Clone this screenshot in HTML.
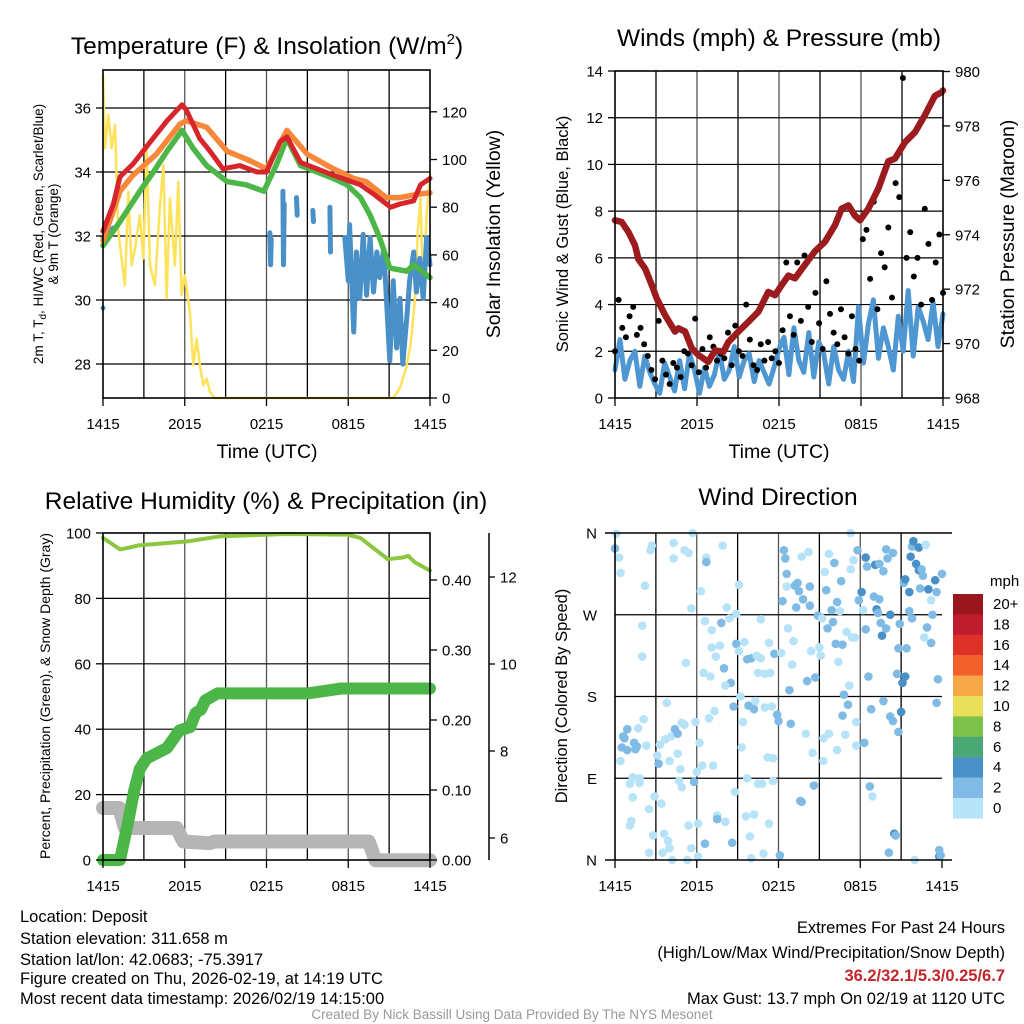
<!DOCTYPE html>
<html><head><meta charset="utf-8"><style>
html,body{margin:0;padding:0;background:#fff;}
svg{display:block;font-family:"Liberation Sans",sans-serif;}
</style></head><body>
<svg id="c" width="1024" height="1024" viewBox="0 0 1024 1024" xmlns="http://www.w3.org/2000/svg">
<g font-size="24.5" text-anchor="middle" fill="#000">
<text x="267" y="54">Temperature (F) &amp; Insolation (W/m<tspan font-size="15" dy="-10">2</tspan><tspan dy="10">)</tspan></text>
<text x="779" y="46">Winds (mph) &amp; Pressure (mb)</text>
<text x="266" y="509">Relative Humidity (%) &amp; Precipitation (in)</text>
<text x="778" y="505">Wind Direction</text>
</g>
<g id="layer"></g>
<g fill="#000" text-anchor="middle">
<text x="267" y="458" font-size="19.5">Time (UTC)</text>
<text x="779" y="458" font-size="19.5">Time (UTC)</text>
<text transform="translate(43,234) rotate(-90)" font-size="13.5">2m T, T<tspan font-size="10" dy="3">d</tspan><tspan dy="-3">, HI/WC (Red, Green, Scarlet/Blue)</tspan></text>
<text transform="translate(58,234) rotate(-90)" font-size="13.5">&amp; 9m T (Orange)</text>
<text transform="translate(500,234) rotate(-90)" font-size="19.5">Solar Insolation (Yellow)</text>
<text transform="translate(568,234) rotate(-90)" font-size="16.5">Sonic Wind &amp; Gust (Blue, Black)</text>
<text transform="translate(1014,234) rotate(-90)" font-size="19.5">Station Pressure (Maroon)</text>
<text transform="translate(50,696) rotate(-90)" font-size="14">Percent, Precipitation (Green), &amp; Snow Depth (Gray)</text>
<text transform="translate(567,696) rotate(-90)" font-size="16.5">Direction (Colored By Speed)</text>
</g>
<g font-size="16.5" fill="#000">
<text x="20" y="922">Location: Deposit</text>
<text x="20" y="944">Station elevation: 311.658 m</text>
<text x="20" y="965">Station lat/lon: 42.0683; -75.3917</text>
<text x="20" y="984">Figure created on Thu, 2026-02-19, at 14:19 UTC</text>
<text x="20" y="1004">Most recent data timestamp: 2026/02/19 14:15:00</text>
<g text-anchor="end">
<text x="1005" y="933">Extremes For Past 24 Hours</text>
<text x="1005" y="958">(High/Low/Max Wind/Precipitation/Snow Depth)</text>
<text x="1005" y="981" fill="#c1272d" font-weight="bold">36.2/32.1/5.3/0.25/6.7</text>
<text x="1005" y="1004">Max Gust: 13.7 mph On 02/19 at 1120 UTC</text>
</g>
<text x="512" y="1019" font-size="13.5" fill="#999" text-anchor="middle">Created By Nick Bassill Using Data Provided By The NYS Mesonet</text>
</g>
</svg>
<script>
// ---------- data ----------
const timeTicks = ["1415","2015","0215","0815","1415"];
const tempTicks = [28,30,32,34,36];
const solarTicks = [0,20,40,60,80,100,120];
const windTicks = [0,2,4,6,8,10,12,14];
const presTicks = [968,970,972,974,976,978,980];
const rhTicks = [0,20,40,60,80,100];
const precipTicks = [0.00,0.10,0.20,0.30,0.40];
const snowTicks = [6,8,10,12];
const dirTicks = ["N","E","S","W","N"];
const speedLabels = ["20+","18","16","14","12","10","8","6","4","2","0"];

const tH = [0,0.76,1.25,2.2,3.4,4.7,5.8,6.1,7.1,7.85,8.8,10.05,11.3,12,13,13.5,14.5,15.7,16.9,17.9,18.9,19.9,21.1,21.8,22.8,23.3,24];
const tempRed = [32.15,33.0,33.85,34.25,34.9,35.6,36.1,35.95,35.05,34.65,34.1,34.2,34.0,34.0,34.95,35.1,34.3,34.1,33.9,33.75,33.6,33.3,32.9,33.0,33.1,33.6,33.8];
const oH = [0,1.25,2.2,3.9,5.65,6.1,7.6,9.1,10.8,12,13.5,15,16.9,18.4,19.3,20.8,21.8,23,24];
const temp9m = [31.85,33.4,33.9,34.55,35.5,35.6,35.4,34.65,34.35,34.1,35.3,34.55,34.1,33.8,33.7,33.2,33.2,33.3,33.35];
const gH = [0,1.25,2.7,3.7,4.7,5.8,6.6,7.6,9.1,10.5,11.8,12.7,13.5,14.5,15.7,16.9,17.9,18.9,19.6,20.3,21.05,22.3,22.8,24];
const tempHIWC = [31.7,32.45,33.4,34.0,34.65,35.3,34.75,34.2,33.7,33.6,33.4,34.2,35.05,34.2,34.0,33.8,33.6,33.2,32.65,31.95,31.0,30.9,31.1,30.7];
const dpH = [0,0.76,null,12.25,12.3,12.35,null,13.2,13.25,13.3,null,14.2,14.25,null,15.4,15.45,null,16.65,16.7,null,17.75,18,18.1,18.4,18.6,18.85,19.1,19.35,19.6,19.85,20.1,20.3,20.6,20.8,21.05,21.3,21.55,21.8,22.0,22.3,22.5,22.8,23.0,23.25,23.5,23.75,24];
const dewpoint = [31.95,32.25,null,32.1,31.1,31.9,null,33.4,31.1,33.0,null,33.2,32.65,null,32.8,32.45,null,32.9,31.5,null,31.95,30.6,32.35,29.0,31.5,30.05,32.05,30.15,31.95,30.25,31.5,30.7,31.6,30.05,28.1,30.6,28.5,30.05,28.0,29.45,30.6,31.5,30.25,31.3,30.05,31.95,31.1];
const dewIsolatedH = [0]; const dewIsolated = [29.75];
const sH = [0,0.15,0.39,0.63,0.88,1.12,1.61,1.86,2.1,2.35,2.71,2.96,3.2,3.45,3.81,4.18,4.43,4.67,4.91,5.28,5.53,5.77,6.0,6.38,6.63,6.87,7.11,7.36,7.6,7.85,8.2,21.3,21.8,22.3,22.6,22.9,23.1,23.3,23.5,23.75,24];
const solar = [135.4,104.7,118.7,104.7,114.5,69.7,47.3,86.5,55.7,62.7,76.7,58.5,104.7,55.7,47.3,80.9,97.7,41.7,83.7,55.7,90.7,43.1,51.5,36.1,13.7,24.9,13.7,5.3,8.1,2.5,0,0,4.2,13.7,23.5,41.7,69.7,83.7,41.7,76.7,93.5];

const pH = [0,0.49,0.98,1.47,1.71,2.2,2.69,3.05,3.66,4.39,4.64,5.13,5.61,6.1,6.83,7.32,7.93,8.3,9.03,9.76,10.49,11.22,11.71,12.2,12.69,13.17,13.9,14.64,15.37,16.1,16.59,17.08,17.56,17.93,18.54,19.27,20.0,20.49,21.22,21.95,22.68,23.4,23.9,24];
const pressure = [974.53,974.47,974.1,973.6,973.1,972.76,972.15,971.66,971.05,970.44,970.56,970.44,969.83,969.58,969.33,969.75,969.7,970.06,970.44,970.8,971.17,971.9,971.78,972.15,972.5,972.4,972.9,973.4,973.75,974.35,974.96,975.08,974.7,974.53,974.96,975.7,976.7,976.8,977.4,977.77,978.4,979.1,979.24,979.3];
const windSpeed = [1.2,2.5,0.8,1.6,2.0,0.5,1.8,1.1,0.6,0.2,1.5,0.9,0.3,1.6,0.4,1.9,1.2,0.2,1.3,0.5,1.0,2.0,0.8,1.2,2.2,0.9,1.6,1.9,0.7,1.6,1.1,0.6,1.3,2.1,2.6,1.0,3.0,1.6,1.1,2.8,0.9,2.4,1.9,0.6,2.2,1.2,0.8,2.0,0.7,3.9,1.5,3.2,4.2,1.7,3.0,2.2,1.2,3.5,2.0,4.6,1.8,3.9,3.3,2.5,4.1,2.2,3.6];
const windGust = [2.0,4.2,3.0,2.6,3.5,3.9,2.7,3.0,2.3,1.8,1.2,0.8,3.3,1.6,1.0,0.6,1.5,1.3,0.9,2.0,1.9,1.4,3.4,1.1,2.1,1.3,2.6,2.2,1.6,1.9,1.7,2.8,1.4,3.1,2.0,1.8,4.0,2.5,1.4,1.2,2.3,1.6,2.4,1.7,2.0,1.5,2.9,5.8,3.5,2.7,5.8,3.3,6.1,3.9,2.4,4.5,3.2,2.1,5.0,3.6,2.8,2.3,3.8,2.6,1.9,3.5,2.1,1.6,6.8,7.2,5.1,8.4,3.8,6.2,5.6,7.3,4.3,9.2,8.6,13.7,6.0,7.1,5.2,6.0,4.0,8.1,6.6,4.2,5.8,7.0,4.5];

const rhH = [0,1.25,1.9,2.6,6.3,8.6,13.5,17.9,18.9,20.9,22,22.4,22.9,24];
const rh = [98.5,95,95.5,96.2,97.5,99,99.7,99.5,98.5,92,92.5,93,91,88.5];
const prH = [0,1.25,1.8,2.3,2.7,3.2,4.2,4.7,5.6,6.4,6.8,7.2,7.5,8.4,15,17.5,24];
const precip = [0,0,0.05,0.1,0.13,0.145,0.155,0.16,0.185,0.19,0.21,0.215,0.228,0.238,0.238,0.245,0.245];
const snH = [0,1.2,1.6,5.4,5.9,7.8,8.2,19.5,20.0,24];
const snow = [6.69,6.69,6.23,6.23,5.92,5.88,5.92,5.92,5.49,5.49];

const dirObs = [[0.0,343,3],[0.1,359,1],[0.3,333,1],[0.4,316,1],[2.2,302,1],[2.7,346,1],[2.6,341,1],[4.3,349,1],[4.3,332,1],[5.1,341,1],[5.4,338,1],[5.7,360,1],[6.7,333,1],[6.7,328,3],[7.9,346,1],[6.3,296,1],[5.6,277,1],[2.0,258,1],[2.0,224,1],[5.2,217,1],[6.6,263,1],[7.1,253,1],[7.8,261,3],[8.2,278,1],[8.4,266,1],[8.9,271,1],[9.1,303,1],[10.7,265,1],[7.1,234,1],[7.7,236,1],[7.4,224,1],[8.9,238,3],[9.1,230,1],[9.5,240,1],[9.7,221,3],[10.0,222,3],[10.4,225,1],[10.7,222,1],[11.3,239,1],[11.7,227,3],[12.2,228,1],[6.5,206,1],[7.0,202,1],[8.0,211,3],[8.5,195,3],[8.1,192,1],[9.2,180,1],[8.7,169,3],[9.8,170,3],[10.2,166,3],[10.3,175,1],[11.0,168,1],[11.5,169,1],[10.5,206,1],[11.0,205,1],[11.4,206,1],[12.4,341,3],[12.5,332,3],[12.6,315,3],[12.3,285,3],[12.6,301,1],[13.2,302,3],[13.4,305,3],[13.5,296,3],[13.3,278,3],[13.8,287,3],[14.3,301,3],[14.3,280,3],[13.7,334,1],[14.2,339,1],[12.7,255,1],[13.1,241,1],[13.0,215,1],[12.8,187,3],[14.1,197,3],[14.7,201,3],[14.4,230,1],[15.0,234,1],[15.1,225,1],[14.9,269,3],[15.2,266,1],[15.4,317,1],[15.5,297,3],[15.7,337,1],[15.9,275,3],[16.0,262,3],[15.6,255,3],[16.1,327,3],[16.3,284,3],[16.5,274,1],[16.6,307,3],[17.3,360,1],[17.8,341,3],[17.5,330,1],[17.3,320,1],[17.0,251,1],[17.4,245,1],[17.6,245,1],[16.2,238,3],[16.7,237,3],[16.4,218,1],[16.8,182,3],[17.1,171,3],[17.2,192,1],[16.7,159,3],[17.7,152,1],[17.7,126,1],[18.3,129,3],[18.8,166,3],[18.7,81,3],[18.9,70,1],[18.4,333,4.5],[18.5,323,3],[18.1,295,4.5],[17.9,286,3],[18.2,275,1],[18.4,254,3],[19.0,290,3],[19.4,287,3],[19.1,325,4.5],[19.4,326,3],[19.7,318,3],[19.9,342,3],[20.0,332,3],[20.4,338,3],[19.2,276,4.5],[19.3,272,3],[19.5,261,3],[19.9,255,3],[19.6,247,4.5],[20.2,270,4.5],[20.9,260,3],[20.8,233,3],[21.4,233,3],[18.6,202,3],[20.7,205,3],[21.3,202,4.5],[21.1,195,4.5],[19.7,175,3],[20.2,158,3],[20.4,153,3],[21.0,163,4.5],[20.8,141,3],[21.2,305,3],[21.3,309,4.5],[21.6,295,4.5],[21.6,274,3],[21.8,266,3],[21.7,334,4.5],[21.8,345,3],[21.9,351,4.5],[22.3,344,4.5],[22.1,326,4.5],[22.3,319,4.5],[22.5,320,3],[22.6,313,3],[22.8,347,1],[22.4,299,3],[23.0,298,4.5],[23.5,308,4.5],[24.0,315,3],[23.6,295,3],[23.2,286,1],[23.3,270,3],[22.9,256,3],[22.7,245,1],[23.2,239,3],[23.7,199,3],[23.6,173,3],[20.5,29,4.5],[20.6,27,3],[20.1,8,3],[22.0,0,1],[23.8,11,3],[23.8,4,4.5],[23.9,5,3],[0.6,136,3],[0.9,144,3],[0.7,134,3],[1.4,129,3],[1.6,125,3],[1.5,122,3],[0.9,121,3],[0.5,124,3],[1.7,145,1],[2.1,155,1],[2.3,126,1],[0.4,109,1],[1.3,91,1],[1.8,90,1],[1.1,84,1],[1.8,85,1],[1.3,69,1],[1.2,43,1],[1.1,38,1],[2.5,56,1],[2.9,70,1],[3.4,62,1],[2.8,27,1],[3.6,29,1],[3.9,21,1],[4.0,13,1],[2.5,8,1],[3.5,8,1],[4.2,0,1],[5.3,0,1],[5.6,13,1],[5.4,38,1],[6.1,40,1],[6.6,18,3],[6.1,4,1],[3.8,173,1],[3.7,133,1],[4.1,136,1],[4.4,144,3],[4.6,139,3],[4.9,151,1],[5.1,149,1],[5.9,152,1],[3.3,127,1],[3.1,115,1],[3.2,106,3],[4.0,109,1],[4.6,117,1],[4.8,100,1],[4.7,87,1],[4.9,80,1],[5.8,86,3],[6.0,97,1],[6.2,129,1],[6.4,104,1],[7.2,104,1],[6.9,156,1],[7.3,164,1],[7.5,49,1],[7.5,45,3],[8.1,42,1],[8.6,19,3],[8.8,75,1],[9.6,48,1],[10.2,50,1],[9.9,26,1],[10.0,2,1],[10.9,7,1],[11.3,40,1],[12.1,5,3],[10.5,84,1],[10.8,84,1],[11.6,87,1],[9.7,90,1],[9.4,152,1],[9.3,124,1],[11.2,113,1],[11.6,112,1],[11.9,160,3],[12.0,153,3],[12.9,150,3],[13.6,65,3],[13.7,64,3],[14.0,139,1],[14.5,118,1],[15.3,109,1],[14.6,82,3],[15.7,139,1],[15.3,134,1],[16.3,121,1],[16.9,138,1]];
const speedColors = ["#99161c","#be1e2d","#de3128","#f26029","#f8a848","#e8e05a","#7fc24b","#4aa874","#4a90c8","#7fbbe4","#b7e3f8"];

// ---------- helpers ----------
const NS="http://www.w3.org/2000/svg";
const layer=document.getElementById('layer');
function mk(tag,attrs,parent){const e=document.createElementNS(NS,tag);for(const k in attrs)e.setAttribute(k,attrs[k]);(parent||layer).appendChild(e);return e;}
function lin(d0,d1,r0,r1){return v=>r0+(v-d0)*(r1-r0)/(d1-d0);}
function pathD(xs,ys,fx,fy){let d='',pen=false;for(let i=0;i<xs.length;i++){if(xs[i]===null||ys[i]===null){pen=false;continue;}d+=(pen?'L':'M')+fx(xs[i]).toFixed(1)+','+fy(ys[i]).toFixed(1);pen=true;}return d;}
function grp(name){const g=mk('g',{});return g;}

function frame(g,x0,x1,y0,y1,fx,gridY){
  for(let h=3;h<24;h+=3){const l=mk('line',{x1:fx(h),x2:fx(h),y1:y0,y2:y1,stroke:h%6?'#000':'#555','stroke-width':1.3},g);}
  gridY.forEach(y=>{const l=mk('line',{x1:x0,x2:x1,y1:y,y2:y,stroke:'#000','stroke-width':1.2},g);});
}
function border(g,x0,x1,y0,y1){const r=mk('rect',{x:x0,y:y0,width:x1-x0,height:y1-y0,fill:'none',stroke:'#000','stroke-width':1.6},g);}
function xAxis(g,fx,y){
  timeTicks.forEach((t,i)=>{const x=fx(i*6);
    const tk=mk('line',{x1:x,x2:x,y1:y,y2:y+8,stroke:'#000','stroke-width':1.3},g);
    const tx=mk('text',{x:x,y:y+31,'font-size':15,'text-anchor':'middle'},g);tx.textContent=t;});
}
function yAxis(g,ticks,fy,x,side,fmt,len){
  ticks.forEach(v=>{const y=fy(v);const d=side<0?-1:1;
    const tk=mk('line',{x1:x,x2:x+d*(len||7),y1:y,y2:y,stroke:'#000','stroke-width':1.3},g);
    const tx=mk('text',{x:x+d*((len||7)+5),y:y+5.5,'font-size':15,'text-anchor':side<0?'end':'start'},g);tx.textContent=fmt?fmt(v):v;});
}
function line(g,name,xs,ys,fx,fy,color,w){const p=mk('path',{d:pathD(xs,ys,fx,fy),fill:'none',stroke:color,'stroke-width':w,'stroke-linejoin':'round','stroke-linecap':'round'},g);return p;}

// ---------- panel 1 ----------
(function(){
 const g=grp('temperature-panel');
 const X=lin(0,24,103,430), Y=lin(36,28,108,364), YS=lin(0,120,398,111.8);
 frame(g,103,430,70,398,X,tempTicks.map(Y));
 line(g,'solar-insolation-line',sH,solar,X,YS,'#fde25a',2.5);
 line(g,'dewpoint-line',dpH,dewpoint,X,Y,'#4a90c8',5);
 dewIsolatedH.forEach((h,i)=>{const c=mk('circle',{cx:X(h),cy:Y(dewIsolated[i]),r:2.5,fill:'#4a90c8'},g);});
 line(g,'heat-index-wind-chill-line',gH,tempHIWC,X,Y,'#4cb748',5.5);
 line(g,'temp-9m-line',oH,temp9m,X,Y,'#f7873a',5.5);
 line(g,'temp-2m-line',tH,tempRed,X,Y,'#d7262b',5);
 border(g,103,430,70,398);
 xAxis(g,X,398);
 yAxis(g,tempTicks,Y,103,-1);
 yAxis(g,solarTicks,YS,430,1);
})();

// ---------- panel 2 ----------
(function(){
 const g=grp('winds-panel');
 const X=lin(0,24,615,943), Y=lin(0,14,398,71), YP=lin(968,980,398,71.5);
 frame(g,615,943,71,398,X,windTicks.slice(1,-1).map(Y));
 const wx=windSpeed.map((v,i)=>i*24/(windSpeed.length-1));
 line(g,'sonic-wind-line',wx,windSpeed,X,Y,'#4f97d3',5);
 windGust.forEach((v,i)=>{const c=mk('circle',{cx:X(i*24/(windGust.length-1)),cy:Y(v),r:3,fill:'#000'},g);});
 line(g,'pressure-line',pH,pressure,X,YP,'#9b1b1e',6.5);
 border(g,615,943,71,398);
 xAxis(g,X,398);
 yAxis(g,windTicks,Y,615,-1);
 yAxis(g,presTicks,YP,943,1);
})();

// ---------- panel 3 ----------
(function(){
 const g=grp('humidity-panel');
 const X=lin(0,24,103,430), Y=lin(0,100,860,533), YPr=lin(0,0.1,860,790), YSn=lin(6,8,838,751);
 frame(g,103,430,533,860,X,rhTicks.slice(1,-1).map(Y));
 line(g,'snow-depth-line',snH,snow,X,YSn,'#b5b5b5',14);
 line(g,'precipitation-line',prH,precip,X,YPr,'#4cb748',12);
 line(g,'relative-humidity-line',rhH,rh,X,Y,'#8dc63f',4);
 border(g,103,430,533,860);
 xAxis(g,X,860);
 yAxis(g,rhTicks,Y,103,-1);
 yAxis(g,precipTicks,YPr,430,1,v=>v.toFixed(2));
 const ax=mk('line',{x1:489,x2:489,y1:533,y2:860,stroke:'#000','stroke-width':1.5},g);
 yAxis(g,snowTicks,YSn,489,1,null,6);
})();

// ---------- panel 4 ----------
(function(){
 const g=grp('wind-direction-panel');
 const X=lin(0,24,615,942), Y=lin(0,360,860,533);
 frame(g,615,942,533,860,X,[90,180,270].map(Y));
 dirObs.forEach(o=>{const ci=Math.max(0,10-Math.floor(o[2]/2));
   const c=mk('circle',{cx:X(o[0]),cy:Y(o[1]),r:4.3,fill:speedColors[Math.min(10,Math.max(0,ci))]},g);
   });
 [0,360].forEach(v=>{const l=mk('line',{x1:605,x2:952,y1:Y(v),y2:Y(v),stroke:'#000','stroke-width':1.5},g);});
 const lx=mk('line',{x1:615,x2:615,y1:533,y2:860,stroke:'#000','stroke-width':1.6},g);
 xAxis(g,X,860);
 dirTicks.forEach((t,i)=>{const tx=mk('text',{x:597,y:Y(i*90)+5.5,'font-size':15,'text-anchor':'end'},g);tx.textContent=t;});
 // colorbar
 const cb=grp('speed-colorbar');
 const t=mk('text',{x:990,y:586,'font-size':15},cb);t.textContent='mph';
 speedLabels.forEach((lab,i)=>{const y=594+i*20.4;
   const r=mk('rect',{x:953,y:y,width:30,height:20.6,fill:speedColors[i]},cb);
   const tx=mk('text',{x:993,y:y+15,'font-size':15},cb);tx.textContent=lab;});
})();
</script>
</body></html>
